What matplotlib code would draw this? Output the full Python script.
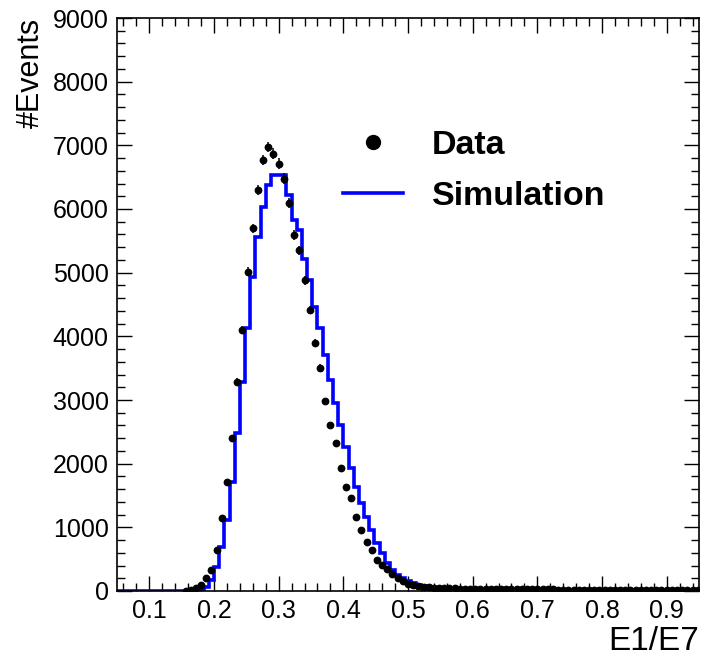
import numpy as np
import matplotlib
matplotlib.use("Agg")
import matplotlib.pyplot as plt
from matplotlib.lines import Line2D
from matplotlib.ticker import MultipleLocator

plt.rcParams['font.family'] = ['Liberation Sans', 'DejaVu Sans']

# Common binning of the E1/E7 histograms
bin_lo, bin_hi, bin_width = 0.048, 0.952, 0.008
edges = np.round(np.arange(bin_lo, bin_hi + bin_width / 2, bin_width), 4)
centres = 0.5 * (edges[:-1] + edges[1:])

data_counts = [
    0, 0, 0, 0, 0, 0, 0, 0, 0, 0, 0, 0, 0,
    3, 12, 40, 94, 204, 330, 644, 1146, 1716, 2402, 3286,
    4097, 5013, 5694, 6295, 6766, 6975, 6871, 6714, 6479, 6091,
    5589, 5353, 4882, 4411, 3893, 3501, 2983, 2606, 2323, 1931,
    1633, 1460, 1162, 958, 769, 644, 487, 410, 340, 270,
    200, 150, 115, 95, 80, 68, 60, 54, 50, 46,
    43, 40, 38, 36, 35, 34, 33, 32, 31, 30,
    30, 29, 28, 28, 27, 26, 26, 25, 25, 24,
    24, 23, 23, 22, 22, 21, 21, 20, 20, 19,
    19, 18, 18, 17, 17, 16, 16, 15, 15, 14,
    14, 13, 13, 12, 12, 11, 11, 10, 10,
]

sim_counts = [
    0, 0, 0, 0, 0, 0, 0, 0, 0, 0, 0, 0, 0, 0, 0,
    5, 15, 60, 173, 381, 695, 1115, 1716, 2476, 3286,
    4124, 4934, 5562, 6033, 6374, 6531, 6531, 6531, 6217, 5824,
    5667, 5222, 4882, 4465, 4124, 3705, 3312, 2946, 2606, 2265,
    1926, 1638, 1381, 1167, 958, 749, 592, 435, 330, 251,
    199, 150, 120, 94, 75, 58, 45, 35, 27, 20,
    15, 12, 10, 8, 6, 5, 4, 3, 3, 2,
    2, 1, 1, 1, 1, 1, 1, 0, 0, 0,
    0, 0, 0, 0, 0, 0, 0, 0, 0, 0,
    0, 0, 0, 0, 0, 0, 0, 0, 0, 0,
    0, 0, 0, 0, 0, 0, 0, 0,
]

data_counts = np.array(data_counts, dtype=float)
sim_counts = np.array(sim_counts, dtype=float)

W, H = 705, 659
fig = plt.figure(figsize=(W / 100, H / 100), dpi=100)
ax = fig.add_axes([117 / W, 68 / H, 582 / W, 573 / H])

# Simulation as a blue step histogram
ax.stairs(sim_counts, edges, color='#0000ff', lw=2.6, zorder=2)

# Data as black markers with Poisson error bars
filled = data_counts > 0
ax.errorbar(centres[filled], data_counts[filled],
            yerr=np.sqrt(data_counts[filled]), fmt='o', color='black',
            ms=4.6, elinewidth=1.1, capsize=0, zorder=3)

ax.set_xlim(0.05, 0.95)
ax.set_ylim(0, 9000)

ax.xaxis.set_major_locator(MultipleLocator(0.1))
ax.xaxis.set_minor_locator(MultipleLocator(0.02))
ax.yaxis.set_major_locator(MultipleLocator(1000))
ax.yaxis.set_minor_locator(MultipleLocator(200))
ax.tick_params(which='both', direction='in', top=True, right=True,
               width=1.0, labelsize=18, colors='black')
ax.tick_params(which='major', length=11, pad=6)
ax.tick_params(which='minor', length=5.5)
for s in ax.spines.values():
    s.set_linewidth(1.2)

ax.set_xlabel('E1/E7', loc='right', fontsize=24, labelpad=2)
ax.set_ylabel('#Events', loc='top', fontsize=22, labelpad=5)

handles = [
    Line2D([], [], ls='none', marker='o', color='black', ms=10),
    Line2D([], [], color='#0000ff', lw=2.6),
]
fig.legend(handles, ['Data', 'Simulation'], loc='upper left',
           bbox_to_anchor=(343 / W, (H - 130) / H), frameon=False,
           prop={'weight': 'bold', 'size': 24.5}, handlelength=1.76,
           handletextpad=0.85, labelspacing=0.58, borderpad=0,
           borderaxespad=0)

fig.savefig('out.png', dpi=100)
